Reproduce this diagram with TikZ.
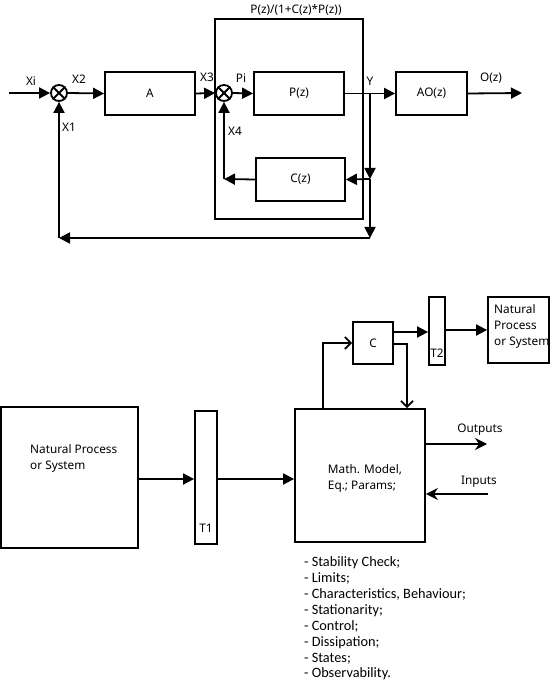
\documentclass[tikz,border=0pt]{standalone}
\usepackage{fontspec}
\setmainfont{Noto Sans}
\newfontfamily\listfont{Carlito}
\usetikzlibrary{arrows.meta}
\begin{document}
\begin{tikzpicture}[x=1pt,y=-1pt,
  every node/.style={font=\fontsize{11.8}{16}\selectfont},
  blk/.style={draw,line width=1.8pt,inner sep=0pt,align=center},
  sumj/.style={draw,circle,line width=1.8pt,minimum size=16pt,inner sep=0pt},
  conn/.style={line width=1.8pt},
  arr/.style={conn,-{Triangle[length=11pt,width=11pt]}},
  openarr/.style={conn,-{Straight Barb[length=6pt,width=12pt,line width=1.8pt]}},
  sarr/.style={conn,-{Stealth[length=12pt,width=12pt,inset=4pt]}},
  lbl/.style={inner sep=0pt}
]
\useasboundingbox (0,0) rectangle (555,684);

% ---------- top diagram ----------
\node[blk,minimum width=148pt,minimum height=200pt] (outer) at (289,119) {};
\node[lbl] (title) at (296,10) {P(z)/(1+C(z)*P(z))};
\node[sumj] (s1) at (59,93) {};
\draw[conn] (s1.north west) -- (s1.south east) (s1.north east) -- (s1.south west);
\node[sumj] (s2) at (224,93) {};
\draw[conn] (s2.north west) -- (s2.south east) (s2.north east) -- (s2.south west);
\node[blk,minimum width=90pt,minimum height=43pt] (A) at (150,93.5) {A};
\node[blk,minimum width=90pt,minimum height=43pt] (P) at (299,93.5) {P(z)};
\node[blk,minimum width=71pt,minimum height=43pt] (AO) at (431.5,93.5) {AO(z)};
\node[blk,minimum width=89pt,minimum height=43pt] (Cz) at (300.5,179.5) {C(z)};

\coordinate (xin) at (9,93);
\coordinate (out) at (522,93);
\coordinate (br1) at (370,93);
\coordinate (br2) at (370,179);
\coordinate (br3) at (370,238);
\coordinate (fb1) at (59,238);
\coordinate (fb2) at (224,179);

\draw[arr] (xin) -- (s1.west);
\draw[arr] (s1.east) -- (A.west);
\draw[arr] (A.east) -- (s2.west);
\draw[arr] (s2.east) -- (P.west);
\draw[arr] (P.east) -- (AO.west);
\draw[arr] (AO.east) -- (out);
\draw[arr] (br1) -- (br2);
\draw[arr] (br2) -- (br3);
\draw[arr] (br2) -- (Cz.east);
\draw[arr] (Cz.west) -- (fb2);
\draw[arr] (fb2) -- (s2.south);
\draw[arr] (br3) -- (fb1);
\draw[arr] (fb1) -- (s1.south);

\node[lbl] (lXi) at (31,81) {Xi};
\node[lbl] (lX2) at (79,79) {X2};
\node[lbl] (lX3) at (207,77) {X3};
\node[lbl] (lPi) at (241,78) {Pi};
\node[lbl] (lY) at (370,81) {Y};
\node[lbl] (lOz) at (491,78) {O(z)};
\node[lbl] (lX1) at (69,127) {X1};
\node[lbl] (lX4) at (235,131) {X4};

% ---------- bottom diagram ----------
\node[blk,minimum width=137pt,minimum height=141pt] (N1) at (69.5,477.5) {};
\node[lbl,anchor=west,align=left] (N1t) at (30,458) {Natural Process\\or System};
\node[blk,minimum width=22pt,minimum height=133pt] (T1) at (206,477.5) {};
\node[lbl] (T1t) at (206,528) {T1};
\node[blk,minimum width=130pt,minimum height=133pt] (M) at (360,475.5) {};
\node[lbl,align=left] (Mt) at (365,478) {Math. Model,\\Eq.; Params;};
\node[blk,minimum width=40pt,minimum height=42pt] (C) at (373,343) {C};
\node[blk,minimum width=16pt,minimum height=68pt] (T2) at (437,331) {};
\node[lbl] (T2t) at (437,353) {T2};
\node[blk,minimum width=61pt,minimum height=66pt] (N2) at (518.5,330) {};
\node[lbl,anchor=west,align=left] (N2t) at (494,326) {Natural\\Process\\or System};

\coordinate (ly) at (0,479);
\draw[arr] (N1.east |- ly) -- (T1.west |- ly);
\draw[arr] (T1.east |- ly) -- (M.west |- ly);
\draw[openarr] ([xshift=-37pt]M.north) |- (C.west);
\draw[openarr] ([yshift=-1pt]C.east) -| ([xshift=47pt]M.north);
\draw[arr] ([yshift=11pt]C.east) coordinate (c1) -- (c1 -| T2.west);
\draw[arr] ([yshift=1pt]T2.east) coordinate (t2) -- (t2 -| N2.west);

\coordinate (outE) at (487,444);
\coordinate (inS) at (488,494);
\draw[sarr] (M.east |- outE) -- (outE);
\draw[sarr] (inS) -- (M.east |- inS);
\node[lbl] (lOut) at (480,430) {Outputs};
\node[lbl] (lIn) at (479,482) {Inputs};

\node[lbl,anchor=west,align=left,font=\listfont\fontsize{14.3}{15.9}\selectfont] (list) at (304,618.5)
{- Stability Check;\\- Limits;\\- Characteristics, Behaviour;\\- Stationarity;\\- Control;\\- Dissipation;\\- States;\\- Observability.};
\end{tikzpicture}
\end{document}
